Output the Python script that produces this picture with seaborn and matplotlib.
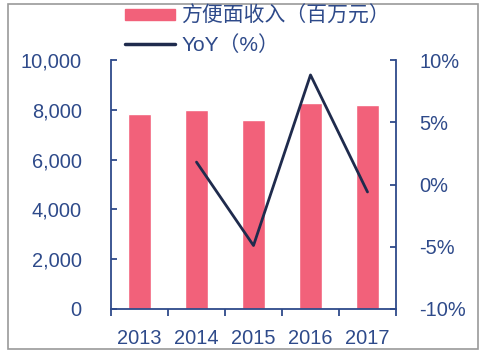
import matplotlib
matplotlib.use('Agg')
import matplotlib.pyplot as plt
import numpy as np
import pandas as pd
import seaborn as sns
from matplotlib.patches import Rectangle
from matplotlib.lines import Line2D
from matplotlib.ticker import FuncFormatter

years = ['2013', '2014', '2015', '2016', '2017']
revenue = [7830, 7990, 7590, 8270, 8190]
yoy = [np.nan, 1.8, -4.9, 8.8, -0.6]

bar_color = '#f2617a'
line_color = '#1f2b4d'
axis_color = '#2e4a8a'
fs = 14.4

sns.set_style('white')
plt.rcParams['font.family'] = ['Liberation Sans', 'Noto Sans CJK SC', 'DejaVu Sans']

df = pd.DataFrame({'year': years, 'revenue': revenue, 'yoy': yoy})

fig = plt.figure(figsize=(4.86, 3.53), dpi=100)
ax = fig.add_axes([111 / 486, 44 / 353, 285 / 486, 249 / 353])

sns.barplot(data=df, x='year', y='revenue', color=bar_color, width=0.4,
            saturation=1, ax=ax)
ax.set_xlim(-0.5, 4.5)
ax.set_ylim(0, 10000)
ax.set_yticks(np.arange(0, 10001, 2000))
ax.yaxis.set_major_formatter(FuncFormatter(lambda v, p: f'{int(v):,}'))
ax.set_xlabel('')
ax.set_ylabel('')

ax2 = ax.twinx()
sns.lineplot(x=np.arange(len(years)), y=df['yoy'], color=line_color,
             linewidth=2.0, ax=ax2)
ax2.set_ylim(-10, 10)
ax2.set_yticks(np.arange(-10, 11, 5))
ax2.yaxis.set_major_formatter(FuncFormatter(lambda v, p: f'{int(v)}%'))
ax2.set_ylabel('')
ax2.set_xlim(-0.5, 4.5)

# axes styling
for a in (ax, ax2):
    for s in a.spines.values():
        s.set_visible(False)
ax.spines['left'].set_visible(True)
ax.spines['bottom'].set_visible(True)
ax2.spines['right'].set_visible(True)
for s in (ax.spines['left'], ax.spines['bottom'], ax2.spines['right']):
    s.set_color(axis_color)
    s.set_linewidth(1.3)

ax.tick_params(axis='y', direction='in', length=4, width=1.3, color=axis_color,
               labelcolor=axis_color, labelsize=fs, pad=21, left=True)
ax2.tick_params(axis='y', direction='in', length=4, width=1.3, color=axis_color,
                labelcolor=axis_color, labelsize=fs, pad=17, right=True)
ax.set_xticks(np.arange(-0.5, 5, 1), minor=False)
ax.set_xticklabels([''] * 6)
ax.set_xticks(np.arange(len(years)), minor=True)
ax.set_xticklabels(years, minor=True)
ax.tick_params(axis='x', which='major', direction='out', length=5, width=1.3,
               color=axis_color, bottom=True)
ax.tick_params(axis='x', which='minor', length=0, labelcolor=axis_color,
               labelsize=fs, pad=14.5)

# legend
handles = [Rectangle((0, 0), 1, 1, color=bar_color),
           Line2D([0], [0], color=line_color, linewidth=2.5)]
fig.legend(handles, ['方便面收入（百万元）', 'YoY（%）'], loc='upper left',
           bbox_to_anchor=(125 / 486, 1 - 6 / 353), frameon=False,
           fontsize=15, labelcolor=axis_color, handlelength=2.4,
           handleheight=0.42, handletextpad=0.3, labelspacing=0.42,
           borderpad=0, borderaxespad=0)

# outer border
fig.patches.append(Rectangle((8 / 486, 4 / 353), 470 / 486, 345 / 353,
                             transform=fig.transFigure, fill=False,
                             edgecolor='#9a9a9a', linewidth=1.2))

plt.savefig('out.png', dpi=100)
plt.close()
